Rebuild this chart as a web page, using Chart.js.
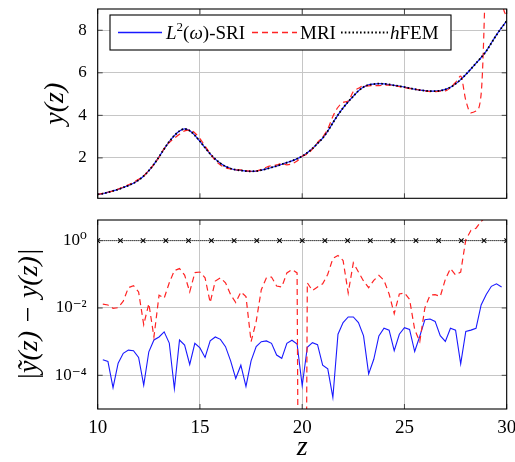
<!DOCTYPE html>
<html>
<head>
<meta charset="utf-8">
<script src="https://cdn.jsdelivr.net/npm/chart.js@4/dist/chart.umd.min.js"></script>
<style>
  html, body { margin: 0; padding: 0; background: #fff; }
  #wrap { position: relative; width: 515px; height: 462px; }
  #topChart { position: absolute; left: 0; top: 0; }
  #errChart { position: absolute; left: 0; top: 210px; }
</style>
</head>
<body>
<div id="wrap">
  <canvas id="topChart" width="515" height="210"></canvas>
  <canvas id="errChart" width="515" height="252"></canvas>
</div>
<script>
// ---- solution y(z) on the fine grid ----
const zTop = [10,10.25,10.5,10.75,11,11.25,11.5,11.75,12,12.25,12.5,12.75,13,13.25,13.5,13.75,14,14.25,14.5,14.75,
  15,15.25,15.5,15.75,16,16.25,16.5,16.75,17,17.25,17.5,17.75,18,18.25,18.5,18.75,19,19.25,19.5,19.75,
  20,20.25,20.5,20.75,21,21.25,21.5,21.75,22,22.25,22.5,22.75,23,23.25,23.5,23.75,24,24.25,24.5,24.75,
  25,25.25,25.5,25.75,26,26.25,26.5,26.75,27,27.25,27.5,27.75,28,28.25,28.5,28.75,29,29.25,29.5,29.75,30];

// reference solution (hFEM) — the SRI curve coincides with it at this scale
const yRef = [0.28,0.32,0.38,0.45,0.52,0.61,0.70,0.81,0.96,1.15,
  1.40,1.70,2.05,2.42,2.77,3.05,3.26,3.36,3.28,3.06,
  2.78,2.48,2.19,1.94,1.75,1.60,1.50,1.44,1.41,1.38,
  1.37,1.38,1.42,1.48,1.55,1.62,1.70,1.78,1.86,1.96,
  2.08,2.24,2.44,2.68,2.93,3.26,3.65,4.02,4.35,4.64,
  4.90,5.15,5.33,5.43,5.47,5.49,5.48,5.45,5.41,5.37,
  5.33,5.28,5.23,5.19,5.16,5.14,5.14,5.16,5.22,5.32,
  5.48,5.68,5.92,6.18,6.45,6.72,7.02,7.40,7.78,8.12,8.44];
const ySri = yRef;

const yMri = [0.28,0.33,0.39,0.44,0.53,0.63,0.74,0.85,0.99,1.15,
  1.41,1.70,2.03,2.44,2.72,2.92,3.11,3.27,3.31,3.17,
  2.90,2.56,2.20,1.88,1.67,1.54,1.48,1.43,1.44,1.40,
  1.37,1.38,1.46,1.56,1.63,1.67,1.74,1.67,1.72,1.85,
  2.08,2.18,2.41,2.72,2.98,3.36,3.95,4.38,4.61,4.67,
  5.12,5.27,5.39,5.39,5.40,5.40,5.41,5.42,5.40,5.35,
  5.30,5.26,5.23,5.19,5.15,5.12,5.12,5.14,5.15,5.30,
  5.55,5.84,4.70,4.12,4.20,5.00,12.1,25,18,9.85,8.6];

// ---- pointwise errors |ỹ(z) − y(z)| ----
const zErr = [10.25,10.5,10.75,11,11.25,11.5,11.75,12,12.25,12.5,12.75,13,13.25,13.5,13.75,14,14.25,14.5,14.75,
  15,15.25,15.5,15.75,16,16.25,16.5,16.75,17,17.25,17.5,17.75,18,18.25,18.5,18.75,19,19.25,19.5,19.75,
  20,20.25,20.5,20.75,21,21.25,21.5,21.75,22,22.25,22.5,22.75,23,23.25,23.5,23.75,24,24.25,24.5,24.75,
  25,25.25,25.5,25.75,26,26.25,26.5,26.75,27,27.25,27.5,27.75,28,28.25,28.5,28.75,29,29.25,29.5,29.75];

const errSri = [2.9e-4,2.6e-4,4.3e-5,2.3e-4,4.5e-4,5.6e-4,5.4e-4,3.4e-4,5.1e-5,5.0e-4,
  1.12e-3,1.38e-3,1.95e-3,9.1e-4,4.0e-5,1.12e-3,7.9e-4,2.1e-4,8.9e-4,6.5e-4,
  3.4e-4,1.05e-3,1.38e-3,1.17e-3,7.1e-4,2.7e-4,8.1e-5,2.0e-4,4.7e-5,2.7e-4,
  7.1e-4,1.0e-3,1.05e-3,8.9e-4,4.0e-4,3.2e-4,8.9e-4,1.10e-3,8.5e-4,4.9e-5,
  6.8e-4,9.3e-4,8.1e-4,2.0e-4,1.55e-4,2.2e-5,1.66e-3,3.7e-3,5.4e-3,5.4e-3,
  3.7e-3,1.48e-3,1.10e-4,3.0e-4,1.48e-3,2.5e-3,2.2e-3,5.4e-4,1.66e-3,2.6e-3,
  2.3e-3,5.1e-4,1.45e-3,4.5e-3,4.7e-3,4.0e-3,1.51e-3,1.02e-3,2.5e-3,2.2e-3,
  2.2e-4,2.0e-3,2.2e-3,2.5e-3,1.23e-2,2.5e-2,4.4e-2,5.2e-2,4.2e-2];

const errMri = [1.3e-2,1.23e-2,9.8e-3,1.02e-2,1.6e-2,4.0e-2,4.6e-2,3.0e-2,3.2e-3,1.35e-2,
  1.38e-3,2.4e-2,1.95e-2,5.6e-2,0.129,0.148,9.5e-2,3.0e-2,0.112,0.117,
  7.9e-2,1.45e-2,6.3e-2,7.9e-2,5.6e-2,2.5e-2,1.45e-2,3.0e-2,2.2e-2,1.0e-3,
  4.0e-3,3.5e-2,7.9e-2,8.3e-2,4.5e-2,4.2e-2,0.110,0.138,0.110,1e-30,
  5.6e-2,3.3e-2,4.2e-2,5.2e-2,0.100,0.295,0.363,0.257,2.8e-2,0.219,
  0.117,6.3e-2,4.0e-2,6.6e-2,9.3e-2,6.6e-2,2.6e-2,6.8e-3,2.6e-2,2.8e-2,
  1.8e-2,2.3e-3,1.0e-3,1.02e-2,2.4e-2,2.5e-2,2.2e-2,7.1e-2,0.148,9.5e-2,
  0.117,1.07,2.0,2.34,3.7,5.3,18,11,6];

const zFem = [10,11.11,12.22,13.33,14.44,15.56,16.67,17.78,18.89,20,21.11,22.22,23.33,24.44,25.56,26.67,27.78,28.89,30];
const errFem = [1,1,1,1,1,1,1,1,1,1,1,1,1,1,1,1,1,1,1];

// ---- axis ticks ----
const zTicks = [10, 15, 20, 25, 30];
const yTicks = [2, 4, 6, 8];
const errTicks = [1e-4, 1e-2, 1];
const errTickLabels = ['10\u207B\u2074', '10\u207B\u00B2', '10\u2070'];

const seriesLabels = ['L\u00B2(\u03C9)-SRI', 'MRI', 'hFEM'];

const FAMILY = '"Liberation Serif", "DejaVu Serif", serif';
Chart.defaults.font.family = FAMILY;
Chart.defaults.color = '#000';

const BLUE = 'rgb(25,25,255)';
const RED = 'rgb(255,35,35)';
const GRID = '#c6c6c6';

const pts = (xs, ys) => xs.map((x, i) => ({ x, y: ys[i] }));

// keep the plotting area fixed: no extra room reserved for overhanging tick labels
const fixY = w => s => { s.width = w; s.paddingTop = 0; s.paddingBottom = 0; };
const fixX = h => s => { s.height = h; s.paddingLeft = 0; s.paddingRight = 0; };

// frame and inward tick marks around the plotting area
const framePlugin = {
  id: 'frame',
  afterDatasetsDraw(chart) {
    const { ctx, chartArea: a, scales } = chart;
    const L = 5;
    ctx.save();
    ctx.strokeStyle = '#444';
    ctx.lineWidth = 1;
    ctx.beginPath();
    scales.x.ticks.forEach(t => {
      const px = scales.x.getPixelForValue(t.value);
      ctx.moveTo(px, a.bottom); ctx.lineTo(px, a.bottom - L);
      ctx.moveTo(px, a.top); ctx.lineTo(px, a.top + L);
    });
    scales.y.ticks.forEach(t => {
      const py = scales.y.getPixelForValue(t.value);
      ctx.moveTo(a.left, py); ctx.lineTo(a.left + L, py);
      ctx.moveTo(a.right, py); ctx.lineTo(a.right - L, py);
    });
    ctx.stroke();
    ctx.strokeStyle = '#000';
    ctx.lineWidth = 1.1;
    ctx.strokeRect(a.left, a.top, a.right - a.left, a.bottom - a.top);
    ctx.restore();
  }
};

// boxed legend inside the upper panel
const legendEntries = [
  { line: { color: BLUE, dash: [], width: 1.3 }, x0: 118, x1: 162, tx: 166,
    parts: [{ t: 'L', i: true }, { t: '2', s: 13, dy: -8 }, { t: '(' }, { t: '\u03C9', i: true }, { t: ')-SRI' }] },
  { line: { color: RED, dash: [6, 4], width: 1.3 }, x0: 252, x1: 297, tx: 300,
    parts: [{ t: 'MRI' }] },
  { line: { color: '#000', dash: [1.6, 2.2], width: 1.8 }, x0: 341, x1: 388, tx: 390,
    parts: [{ t: 'h', i: true }, { t: 'FEM' }] }
];
const legendPlugin = {
  id: 'boxLegend',
  afterDraw(chart) {
    const ctx = chart.ctx;
    ctx.save();
    ctx.fillStyle = '#fff';
    ctx.fillRect(110, 15, 341, 35);
    ctx.strokeStyle = '#000';
    ctx.lineWidth = 1.1;
    ctx.strokeRect(110, 15, 341, 35);
    const yMid = 32.5, base = 38.5;
    legendEntries.forEach(e => {
      ctx.beginPath();
      ctx.setLineDash(e.line.dash);
      ctx.strokeStyle = e.line.color;
      ctx.lineWidth = e.line.width;
      ctx.moveTo(e.x0, yMid); ctx.lineTo(e.x1, yMid);
      ctx.stroke();
      ctx.setLineDash([]);
      let x = e.tx;
      ctx.fillStyle = '#000';
      ctx.textBaseline = 'alphabetic';
      e.parts.forEach(p => {
        ctx.font = (p.i ? 'italic ' : '') + (p.s || 19) + 'px ' + FAMILY;
        ctx.fillText(p.t, x, base + (p.dy || 0));
        x += ctx.measureText(p.t).width;
      });
    });
    ctx.restore();
  }
};

const LEFT_W = 97.7;
const RIGHT_PAD = 8.3;

new Chart(document.getElementById('topChart'), {
  type: 'line',
  data: {
    datasets: [
      { label: seriesLabels[2], data: pts(zTop, yRef), borderColor: '#000', borderWidth: 1.8,
        borderDash: [1.6, 2.2], pointRadius: 0, cubicInterpolationMode: 'monotone', order: 0 },
      { label: seriesLabels[1], data: pts(zTop, yMri), borderColor: RED, borderWidth: 1.2,
        borderDash: [6, 4], pointRadius: 0, cubicInterpolationMode: 'monotone', order: 1 },
      { label: seriesLabels[0], data: pts(zTop, ySri), borderColor: BLUE, borderWidth: 1.2,
        pointRadius: 0, cubicInterpolationMode: 'monotone', order: 2 }
    ]
  },
  options: {
    responsive: false, animation: false, events: [],
    layout: { padding: { left: 0, right: RIGHT_PAD, top: 9, bottom: 0 } },
    plugins: { legend: { display: false }, tooltip: { enabled: false } },
    scales: {
      x: {
        type: 'linear', min: 10, max: 30,
        afterBuildTicks: s => { s.ticks = zTicks.map(v => ({ value: v })); },
        afterFit: fixX(11.7),
        ticks: { display: false },
        grid: { color: GRID, lineWidth: 1, drawTicks: false },
        border: { display: false }
      },
      y: {
        type: 'linear', min: 0.1, max: 9,
        afterBuildTicks: s => { s.ticks = yTicks.map(v => ({ value: v })); },
        afterFit: fixY(LEFT_W),
        ticks: { font: { size: 17 }, padding: 11, callback: v => String(v) },
        grid: { color: GRID, lineWidth: 1, drawTicks: false },
        border: { display: false },
        title: { display: true, text: 'y(z)', font: { size: 28, style: 'italic', lineHeight: 1 },
                 padding: { top: 42, bottom: 0 } }
      }
    }
  },
  plugins: [framePlugin, legendPlugin]
});

new Chart(document.getElementById('errChart'), {
  type: 'line',
  data: {
    datasets: [
      { label: seriesLabels[2], data: pts(zFem, errFem), borderColor: '#000', borderWidth: 1,
        borderDash: [1, 1], pointStyle: 'crossRot', pointRadius: 3.2, pointBorderWidth: 1.1,
        pointBorderColor: '#000', tension: 0, order: 0 },
      { label: seriesLabels[1], data: pts(zErr, errMri), borderColor: RED, borderWidth: 1.2,
        borderDash: [6, 4], pointRadius: 0, tension: 0, order: 1 },
      { label: seriesLabels[0], data: pts(zErr, errSri), borderColor: BLUE, borderWidth: 1.1,
        pointRadius: 0, tension: 0, order: 2 }
    ]
  },
  options: {
    responsive: false, animation: false, events: [],
    layout: { padding: { left: 0, right: RIGHT_PAD, top: 10, bottom: 0 } },
    plugins: { legend: { display: false }, tooltip: { enabled: false } },
    scales: {
      x: {
        type: 'linear', min: 10, max: 30,
        afterBuildTicks: s => { s.ticks = zTicks.map(v => ({ value: v })); },
        afterFit: fixX(53),
        ticks: { font: { size: 19 }, padding: 8, maxRotation: 0, callback: v => String(v) },
        grid: { color: GRID, lineWidth: 1, drawTicks: false },
        border: { display: false },
        title: { display: true, text: 'z', font: { size: 28, style: 'italic', lineHeight: 1 },
                 padding: { top: 0, bottom: 0 } }
      },
      y: {
        type: 'logarithmic', min: 1e-5, max: 4.1,
        afterBuildTicks: s => { s.ticks = errTicks.map(v => ({ value: v })); },
        afterFit: fixY(LEFT_W),
        ticks: { font: { size: 17 }, padding: 11,
                 callback: v => { const k = errTicks.indexOf(v); return k >= 0 ? errTickLabels[k] : ''; } },
        grid: { color: GRID, lineWidth: 1, drawTicks: false },
        border: { display: false },
        title: { display: true, text: '|\u1EF9(z) \u2212 y(z)|', font: { size: 28, style: 'italic', lineHeight: 1 },
                 padding: { top: 16, bottom: 0 } }
      }
    }
  },
  plugins: [framePlugin]
});
</script>
</body>
</html>
